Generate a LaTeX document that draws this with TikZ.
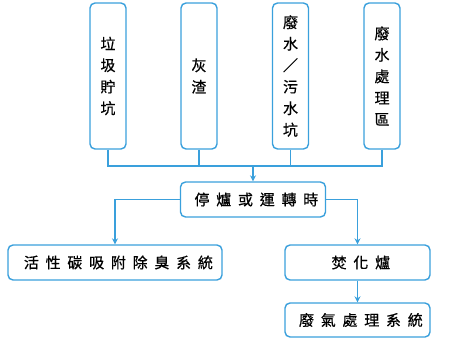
\documentclass[tikz,border=0pt]{standalone}
\usepackage{fontspec}
\newfontfamily\cjk[FakeBold=0.6]{Noto Sans CJK TC}
\usepackage{xcolor}
\usetikzlibrary{arrows.meta}
\definecolor{lineblue}{HTML}{3AA0DC}

\begin{document}
\begin{tikzpicture}[x=1pt, y=-1pt,
    tallbox/.style={draw=lineblue, line width=1.4pt, rounded corners=5pt, fill=white,
                minimum width=36pt, minimum height=146pt, inner sep=0pt,
                font=\cjk\fontsize{15}{21.5}\selectfont, align=center},
    widebox/.style={draw=lineblue, line width=1.4pt, rounded corners=5pt, fill=white,
                minimum height=35pt, inner sep=0pt,
                font=\cjk\fontsize{15}{18}\selectfont\addfontfeature{LetterSpace=45}},
    link/.style={draw=lineblue, line width=1.2pt},
    arrow/.style={link, -{Stealth[length=6pt, width=6pt]}}
]
\useasboundingbox (0,0) rectangle (450,346);
\node[tallbox] (pit) at (108,76)   {垃\\圾\\貯\\坑};
\node[tallbox] (ash) at (199,76)   {灰\\渣};
\node[tallbox] (sump) at (290.5,76) {廢\\水\\／\\污\\水\\坑};
\node[tallbox] (wwt) at (382,76)   {廢\\水\\處\\理\\區};
\coordinate (bus) at (253,166);
\foreach \x in {pit,ash,sump,wwt} {
    \draw[link] (\x.south) |- (bus);
}
\node[widebox, minimum width=145pt] (stop) at (253,199.5) {停爐或運轉時\kern-6.75pt};
\draw[arrow] (bus) -- (stop.north);
\node[widebox, minimum width=214pt] (carbon) at (115,262.5) {活性碳吸附除臭系統\kern-6.75pt};
\node[widebox, minimum width=145pt] (incin) at (357.5,262.5) {焚化爐\kern-6.75pt};
\node[widebox, minimum width=145pt, minimum height=34pt] (flue) at (357.5,320) {廢氣處理系統\kern-6.75pt};
\draw[arrow] (stop.west) -| (carbon.north);
\draw[arrow] (stop.east) -| (incin.north);
\draw[arrow] (incin.south) -- (flue.north);
\end{tikzpicture}
\end{document}
